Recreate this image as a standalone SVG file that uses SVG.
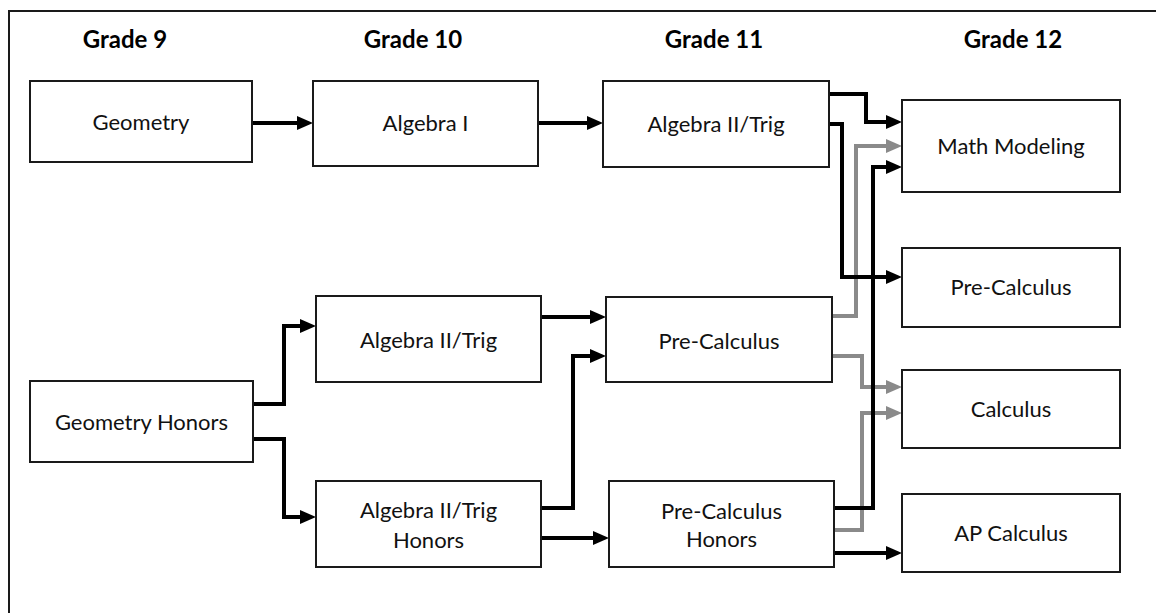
<svg xmlns="http://www.w3.org/2000/svg" width="1156" height="613" viewBox="0 0 1156 613">
<style>
.box{fill:#fff;stroke:#1a1a1a;stroke-width:2}
.t{font-family:Lato,"Open Sans","Liberation Sans",sans-serif;font-size:22px;fill:#111;text-anchor:middle}
.h{font-family:Lato,"Open Sans","Liberation Sans",sans-serif;font-size:24px;font-weight:bold;fill:#000;text-anchor:middle}
.k{fill:none;stroke:#000;stroke-width:4;marker-end:url(#ak)}
.g{fill:none;stroke:#8a8a8a;stroke-width:4;marker-end:url(#ag)}
</style>
<defs>
<marker id="ak" markerUnits="userSpaceOnUse" markerWidth="17" markerHeight="15" refX="1" refY="7" orient="auto"><path d="M0,0 L16,7 L0,14 z" fill="#000"/></marker>
<marker id="ag" markerUnits="userSpaceOnUse" markerWidth="17" markerHeight="15" refX="1" refY="7" orient="auto"><path d="M0,0 L16,7 L0,14 z" fill="#8a8a8a"/></marker>
</defs>
<rect width="1156" height="613" fill="#fff"/>
<path d="M1160,11 H9 V620" fill="none" stroke="#1a1a1a" stroke-width="2"/>
<g id="headers">
<text class="h" x="125" y="48">Grade 9</text>
<text class="h" x="413" y="48">Grade 10</text>
<text class="h" x="714" y="48">Grade 11</text>
<text class="h" x="1013" y="48">Grade 12</text>
</g>
<g id="connectors">
<path class="g" d="M832,316 H856 V146 H887"/>
<path class="g" d="M832,356 H862 V387 H887"/>
<path class="g" d="M834,530 H862 V413 H887"/>
<path class="k" d="M252,123 H298"/>
<path class="k" d="M538,123 H588"/>
<path class="k" d="M829,94 H866 V122 H887"/>
<path class="k" d="M829,124 H842 V277 H887"/>
<path class="k" d="M834,508 H873 V167 H887"/>
<path class="k" d="M834,553 H887"/>
<path class="k" d="M253,404 H284 V326 H301"/>
<path class="k" d="M253,439 H284 V517 H301"/>
<path class="k" d="M541,317 H591"/>
<path class="k" d="M541,508 H573 V356 H591"/>
<path class="k" d="M541,538 H594"/>
</g>
<g id="geometry"><rect class="box" x="30" y="81" width="222" height="81"/><text class="t" x="141" y="130">Geometry</text></g>
<g id="algebra1"><rect class="box" x="313" y="81" width="225" height="85"/><text class="t" x="425.5" y="131">Algebra I</text></g>
<g id="algebra2trig11"><rect class="box" x="603" y="81" width="226" height="86"/><text class="t" x="716" y="132">Algebra II/Trig</text></g>
<g id="mathmodeling"><rect class="box" x="902" y="100" width="218" height="92"/><text class="t" x="1011" y="154">Math Modeling</text></g>
<g id="precalc12"><rect class="box" x="902" y="248" width="218" height="79"/><text class="t" x="1011" y="295">Pre-Calculus</text></g>
<g id="calculus"><rect class="box" x="902" y="370" width="218" height="78"/><text class="t" x="1011" y="417">Calculus</text></g>
<g id="apcalculus"><rect class="box" x="902" y="494" width="218" height="78"/><text class="t" x="1011" y="541">AP Calculus</text></g>
<g id="geometryhonors"><rect class="box" x="30" y="381" width="223" height="81"/><text class="t" x="141.5" y="430">Geometry Honors</text></g>
<g id="algebra2trig10"><rect class="box" x="316" y="296" width="225" height="86"/><text class="t" x="428.5" y="348">Algebra II/Trig</text></g>
<g id="algebra2trighonors"><rect class="box" x="316" y="481" width="225" height="86"/><text class="t" x="428.5" y="518">Algebra II/Trig</text><text class="t" x="428.5" y="548">Honors</text></g>
<g id="precalc11"><rect class="box" x="606" y="297" width="226" height="85"/><text class="t" x="719" y="349">Pre-Calculus</text></g>
<g id="precalchonors"><rect class="box" x="609" y="481" width="225" height="86"/><text class="t" x="721.5" y="519">Pre-Calculus</text><text class="t" x="721.5" y="547">Honors</text></g>
</svg>
